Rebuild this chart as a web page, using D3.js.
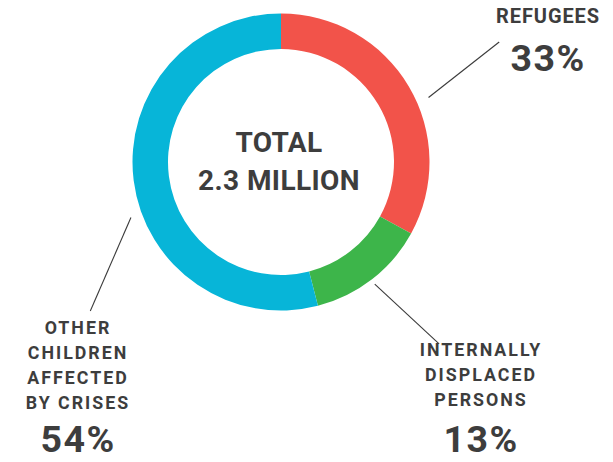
<!DOCTYPE html>
<html>
  <head>
    <title>Children affected</title>
    <script src="https://d3js.org/d3.v7.min.js"></script>
    <style>
      body { margin: 0; background: #fff; }
      text {
        font-family: Roboto, "DejaVu Sans", sans-serif;
        font-weight: 700;
        fill: #3d3d3d;
      }
      .label { font-size: 17.8px; letter-spacing: 2px; }
      .label.big { font-size: 20px; letter-spacing: 0.9px; }
      .pct { font-size: 37.5px; letter-spacing: 1.5px; }
      .total { font-size: 28px; letter-spacing: 0.4px; }
      .leader { stroke: #3a3a3a; stroke-width: 1.1px; }
    </style>
  </head>
  <body>
    <svg width="613" height="462"></svg>
    <script>
      const categories = ["Refugees", "Internally displaced persons", "Other children affected by crises"];
      const shares = [33, 13, 54];
      const colors = ["#f2534a", "#3db54a", "#07b5d8"];
      const labelLines = [
        ["REFUGEES"],
        ["INTERNALLY", "DISPLACED", "PERSONS"],
        ["OTHER", "CHILDREN", "AFFECTED", "BY CRISES"]
      ];
      const totalLines = ["TOTAL", "2.3 MILLION"];

      const svg = d3.select("svg");
      const cx = 281, cy = 162;
      const outerR = 148.5, innerR = 113;

      // label placement: leader line as [angle deg, radius] pairs, text anchor point
      const layout = [
        {from: [66.4, 161], to: [61.2, 249], x: 548, y: 22.5, lineH: 25, pctY: 71, big: true},
        {from: [142.5, 154], to: [139, 241], x: 481, y: 356, lineH: 25, pctY: 452, big: false},
        {from: [249.7, 160], to: [232, 242], x: 78, y: 333.5, lineH: 25, pctY: 452, big: false}
      ];

      const g = svg.append("g")
          .attr("transform", `translate(${cx}, ${cy})`);

      const pie = d3.pie().sort(null).value(d => d);
      const arc = d3.arc().innerRadius(innerR).outerRadius(outerR);

      g.selectAll("path.slice")
        .data(pie(shares))
        .enter().append("path")
          .attr("class", "slice")
          .attr("d", arc)
          .attr("fill", (d, i) => colors[i]);

      const rad = a => a * Math.PI / 180;

      g.selectAll("line.leader")
        .data(layout)
        .enter().append("line")
          .attr("class", "leader")
          .attr("x1", d => d3.pointRadial(rad(d.from[0]), d.from[1])[0])
          .attr("y1", d => d3.pointRadial(rad(d.from[0]), d.from[1])[1])
          .attr("x2", d => d3.pointRadial(rad(d.to[0]), d.to[1])[0])
          .attr("y2", d => d3.pointRadial(rad(d.to[0]), d.to[1])[1]);

      layout.forEach((l, i) => {
        const t = svg.append("g")
            .attr("transform", `translate(${l.x}, 0)`);
        labelLines[i].forEach((line, j) => {
          t.append("text")
              .attr("class", l.big ? "label big" : "label")
              .attr("text-anchor", "middle")
              .attr("y", l.y + j * l.lineH)
              .text(line);
        });
        t.append("text")
            .attr("class", "pct")
            .attr("text-anchor", "middle")
            .attr("y", l.pctY)
            .text(shares[i] + "%");
      });

      g.selectAll("text.total")
        .data(totalLines)
        .enter().append("text")
          .attr("class", "total")
          .attr("text-anchor", "middle")
          .attr("x", -2)
          .attr("y", (d, i) => -10 + i * 38)
          .text(d => d);
    </script>
  </body>
</html>
